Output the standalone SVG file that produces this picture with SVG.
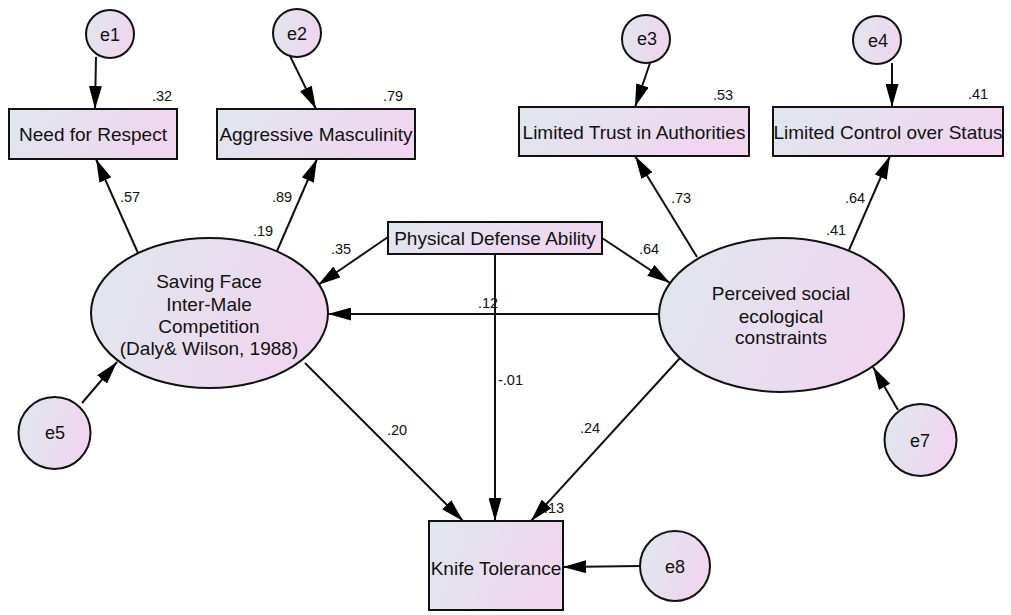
<svg xmlns="http://www.w3.org/2000/svg" width="1011" height="615" viewBox="0 0 1011 615">
<defs>
<linearGradient id="g" x1="0" y1="0" x2="1" y2="0.25">
<stop offset="0" stop-color="#dfe7ee"/>
<stop offset="1" stop-color="#f0d6ef"/>
</linearGradient>
<marker id="ah" markerUnits="userSpaceOnUse" markerWidth="23" markerHeight="13" refX="23" refY="6.5" orient="auto">
<path d="M0,0 L23,6.5 L0,13 z" fill="#000"/>
</marker>
<style>
.n{fill:url(#g);stroke:#111;stroke-width:2}
.t{font-family:"Liberation Sans",Arial,sans-serif;font-size:19px;fill:#111;text-anchor:middle}
.e{font-family:"Liberation Sans",Arial,sans-serif;font-size:18px;fill:#111;text-anchor:middle}
.l{font-family:"Liberation Sans",Arial,sans-serif;font-size:14.5px;fill:#111}
.c line{stroke:#111;stroke-width:2;marker-end:url(#ah)}
</style>
</defs>
<rect width="1011" height="615" fill="#fff"/>
<g id="connectors" class="c">
<line x1="96" y1="57" x2="95" y2="109"/>
<line x1="290" y1="56" x2="316" y2="109"/>
<line x1="650" y1="63" x2="635" y2="107"/>
<line x1="892" y1="63" x2="892" y2="107"/>
<line x1="138" y1="253" x2="96" y2="159"/>
<line x1="277" y1="251" x2="317" y2="159"/>
<line x1="697" y1="257" x2="635" y2="156"/>
<line x1="849" y1="250" x2="890" y2="156"/>
<line x1="388" y1="237" x2="318" y2="285"/>
<line x1="602" y1="238" x2="670" y2="283"/>
<line x1="659" y1="314" x2="328" y2="314"/>
<line x1="495" y1="254" x2="495" y2="521"/>
<line x1="305" y1="363" x2="463" y2="521"/>
<line x1="680" y1="358" x2="531" y2="521"/>
<line x1="82" y1="403" x2="117" y2="362"/>
<line x1="898" y1="410" x2="873" y2="367"/>
<line x1="640" y1="566" x2="563" y2="567"/>
</g>
<g id="e1"><circle class="n" cx="110" cy="34" r="24"/><text class="e" x="110" y="41">e1</text></g>
<g id="e2"><circle class="n" cx="297" cy="33" r="24"/><text class="e" x="297" y="40">e2</text></g>
<g id="e3"><circle class="n" cx="646" cy="39" r="24"/><text class="e" x="647" y="45">e3</text></g>
<g id="e4"><circle class="n" cx="877" cy="40" r="24"/><text class="e" x="878" y="47">e4</text></g>
<g id="e5"><circle class="n" cx="54.5" cy="433" r="36"/><text class="e" x="55" y="439">e5</text></g>
<g id="e7"><circle class="n" cx="920.5" cy="440" r="36"/><text class="e" x="920" y="447">e7</text></g>
<g id="e8"><circle class="n" cx="675" cy="566" r="35"/><text class="e" x="675" y="573">e8</text></g>
<g id="need"><rect class="n" x="9" y="109" width="168" height="50"/><text class="t" x="93" y="141">Need for Respect</text></g>
<g id="aggr"><rect class="n" x="217" y="109" width="198" height="50"/><text class="t" x="316" y="141">Aggressive Masculinity</text></g>
<g id="trust"><rect class="n" x="519" y="107" width="230" height="49"/><text class="t" x="634" y="139">Limited Trust in Authorities</text></g>
<g id="control"><rect class="n" x="773" y="107" width="230" height="49"/><text class="t" x="888" y="139">Limited Control over Status</text></g>
<g id="physical"><rect class="n" x="388" y="222" width="214" height="32"/><text class="t" x="495" y="245">Physical Defense Ability</text></g>
<g id="saving"><ellipse class="n" cx="209.5" cy="313" rx="118.5" ry="75"/>
<text class="t" x="209" y="288">Saving Face</text>
<text class="t" x="209" y="311">Inter-Male</text>
<text class="t" x="209" y="333">Competition</text>
<text class="t" x="209" y="355">(Daly&amp; Wilson, 1988)</text></g>
<g id="perceived"><ellipse class="n" cx="781.5" cy="315" rx="122.5" ry="77"/>
<text class="t" x="781" y="300">Perceived social</text>
<text class="t" x="781" y="323">ecological</text>
<text class="t" x="781" y="344">constraints</text></g>
<g id="knife"><rect class="n" x="429" y="521" width="134" height="89"/><text class="t" x="496" y="575">Knife Tolerance</text></g>
<g id="labels" class="l">
<text x="152" y="101">.32</text>
<text x="383" y="101">.79</text>
<text x="713" y="100">.53</text>
<text x="968" y="99">.41</text>
<text x="120" y="202">.57</text>
<text x="272" y="202">.89</text>
<text x="253" y="236">.19</text>
<text x="331" y="254">.35</text>
<text x="671" y="203">.73</text>
<text x="845" y="203">.64</text>
<text x="826" y="235">.41</text>
<text x="639" y="254">.64</text>
<text x="478" y="308">.12</text>
<text x="498" y="385">-.01</text>
<text x="387" y="435">.20</text>
<text x="580" y="433">.24</text>
<text x="544" y="513">.13</text>
</g>
</svg>
